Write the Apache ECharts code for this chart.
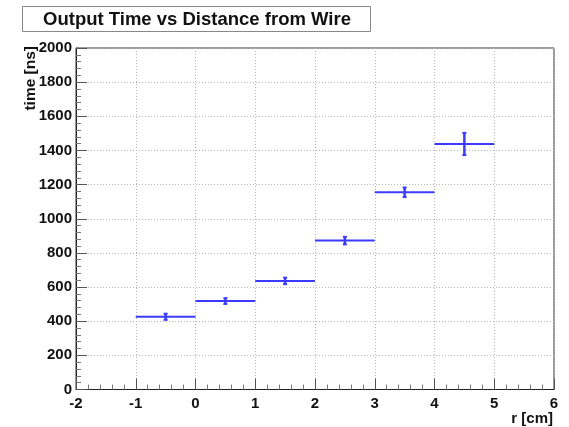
<!DOCTYPE html>
<html><head><meta charset="utf-8">
<script src="https://cdn.jsdelivr.net/npm/echarts@6/dist/echarts.min.js"></script>
<style>html,body{margin:0;padding:0;background:#fff}#c{width:569px;height:427px}</style>
</head><body><div id="c"></div>
<script>
var titleText = 'Output Time vs Distance from Wire';
var xTitle = 'r [cm]';
var yTitle = 'time [ns]';
var binCenters = [-0.5, 0.5, 1.5, 2.5, 3.5, 4.5];
var binHalfWidth = [0.5, 0.5, 0.5, 0.5, 0.5, 0.5];
var timeValues = [426, 518, 636, 872, 1155, 1438];
var timeErrors = [18, 17, 19, 22, 28, 65];

var data = binCenters.map(function (x, i) { return [x, timeValues[i], binHalfWidth[i], timeErrors[i]]; });
var blue = '#3b3bff';
var font = 'Liberation Sans';

var chart = echarts.init(document.getElementById('c'));
chart.setOption({
  animation: false,
  backgroundColor: '#fff',
  grid: { left: 76, right: 15, top: 48, bottom: 37.5, show: true, borderColor: '#333', borderWidth: 1, backgroundColor: 'transparent' },
  xAxis: {
    type: 'value', min: -2, max: 6, interval: 1,
    axisLine: { show: true, onZero: false, lineStyle: { color: '#222', width: 1 } },
    axisTick: { show: true, inside: true, length: 11, lineStyle: { color: '#555' } },
    minorTick: { show: true, splitNumber: 5, length: 5, lineStyle: { color: '#777' } },
    splitLine: { show: true, lineStyle: { color: '#b5b5b5', type: [1, 2], width: 1 } },
    axisLabel: { color: '#111', fontFamily: font, fontWeight: 'bold', fontSize: 15, margin: 7, formatter: function (v) { return String(v); } }
  },
  yAxis: {
    type: 'value', min: 0, max: 2000, interval: 200,
    axisLine: { show: true, onZero: false, lineStyle: { color: '#222', width: 1 } },
    axisTick: { show: true, inside: true, length: 11, lineStyle: { color: '#555' } },
    minorTick: { show: true, splitNumber: 5, length: 5, lineStyle: { color: '#777' } },
    splitLine: { show: true, lineStyle: { color: '#b5b5b5', type: [1, 2], width: 1 } },
    axisLabel: { color: '#111', fontFamily: font, fontWeight: 'bold', fontSize: 15, margin: 4, formatter: function (v) { return String(v); } }
  },
  graphic: [
    { type: 'rect', shape: { x: 22.5, y: 6.5, width: 348, height: 25 }, style: { fill: '#fff', stroke: '#888', lineWidth: 1 }, z: 10 },
    { type: 'text', x: 197, y: 19.5, style: { text: titleText, fill: '#111', font: 'bold 18.5px "Liberation Sans"', align: 'center', verticalAlign: 'middle' }, z: 11 },
    { type: 'text', x: 31, y: 46, rotation: Math.PI / 2, style: { text: yTitle, fill: '#111', font: 'bold 15.5px "Liberation Sans"', align: 'right', verticalAlign: 'middle' }, z: 11 },
    { type: 'text', x: 553, y: 419, style: { text: xTitle, fill: '#111', font: 'bold 15px "Liberation Sans"', align: 'right', verticalAlign: 'middle' }, z: 11 }
  ],
  series: [{
    type: 'custom',
    data: data,
    renderItem: function (params, api) {
      var x = api.value(0), y = api.value(1), hw = api.value(2), e = api.value(3);
      var pL = api.coord([x - hw, y]), pR = api.coord([x + hw, y]);
      var pT = api.coord([x, y + e]), pB = api.coord([x, y - e]);
      var st = { stroke: blue, lineWidth: 2 };
      return {
        type: 'group',
        children: [
          { type: 'line', shape: { x1: pL[0], y1: pL[1], x2: pR[0], y2: pR[1] }, style: st },
          { type: 'line', shape: { x1: pT[0], y1: pT[1], x2: pB[0], y2: pB[1] }, style: { stroke: blue, lineWidth: 2.5 } },
          { type: 'line', shape: { x1: pT[0] - 2, y1: pT[1], x2: pT[0] + 2, y2: pT[1] }, style: st },
          { type: 'line', shape: { x1: pB[0] - 2, y1: pB[1], x2: pB[0] + 2, y2: pB[1] }, style: st }
        ]
      };
    },
    z: 5
  }]
});
</script></body></html>
